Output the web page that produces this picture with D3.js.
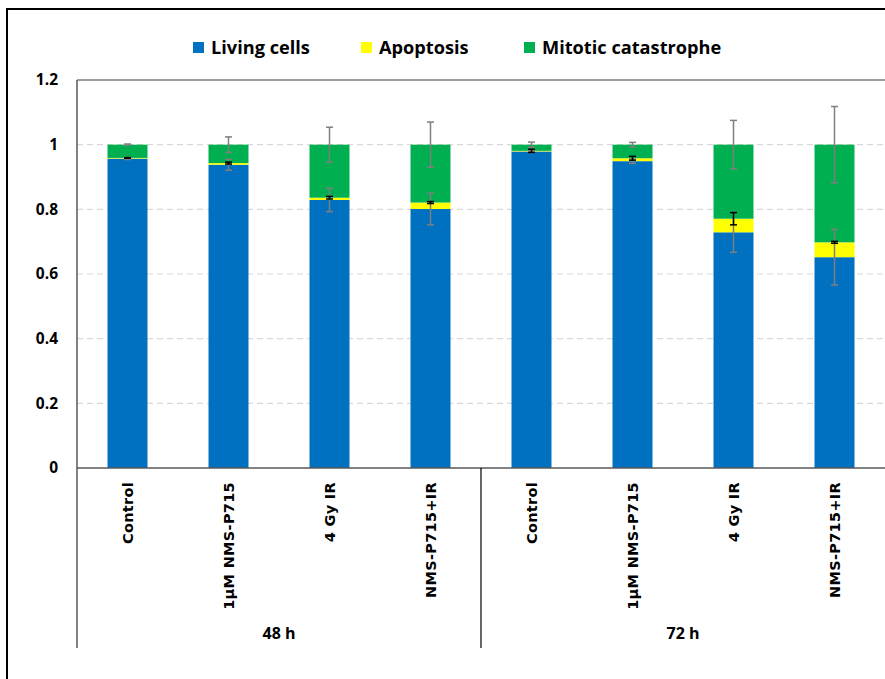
<!DOCTYPE html>
<html>
<head>
<meta charset="utf-8">
<script src="https://cdn.jsdelivr.net/npm/d3@7"></script>
<style>
  html, body { margin: 0; padding: 0; background: #fff; }
  svg { display: block; }
</style>
</head>
<body>
<svg id="chart" width="885" height="679"></svg>
<script>
// Treatments per time point, and the time points they are grouped under
const treatments = ["Control", "1µM NMS-P715", "4 Gy IR", "NMS-P715+IR",
                    "Control", "1µM NMS-P715", "4 Gy IR", "NMS-P715+IR"];
const timeGroups = ["48 h", "72 h"];
const seriesNames = ["Living cells", "Apoptosis", "Mitotic catastrophe"];

// Fractions of cells (each column sums to 1)
const living    = [0.957, 0.938, 0.829, 0.801, 0.979, 0.949, 0.729, 0.652];
const apoptosis = [0.002, 0.005, 0.007, 0.020, 0.002, 0.009, 0.042, 0.046];
const mitotic   = [0.041, 0.057, 0.164, 0.179, 0.019, 0.042, 0.229, 0.302];

// Error bar half-widths
const livingErr    = [0.003, 0.017, 0.036, 0.049, 0.003, 0.007, 0.062, 0.086];
const apoptosisErr = [0.001, 0.003, 0.004, 0.003, 0.005, 0.006, 0.019, 0.003];
const mitoticErr   = [0.002, 0.024, 0.054, 0.070, 0.008, 0.007, 0.075, 0.118];

const yTicks = [0, 0.2, 0.4, 0.6, 0.8, 1, 1.2];

const colors = ["#0070C0", "#FFFF00", "#00B050"];
const errColors = ["#7f7f7f", "#000000", "#7f7f7f"];

const textFont = "'Open Sans', Lato, sans-serif";
const svg = d3.select("#chart");

// outer frame
svg.append("rect")
  .attr("x", 7).attr("y", 9).attr("width", 900).attr("height", 700)
  .attr("fill", "none").attr("stroke", "#000").attr("stroke-width", 2);

const plot = { left: 77, right: 885, top: 80, bottom: 468 };

const x = d3.scaleBand()
  .domain(d3.range(treatments.length))
  .range([plot.left, plot.right])
  .paddingInner(0.604)
  .paddingOuter(0.302);

const y = d3.scaleLinear().domain([0, 1.2]).range([plot.bottom, plot.top]);

// gridlines
svg.append("g").selectAll("line")
  .data(yTicks.filter(t => t > 0 && t < 1.2))
  .join("line")
  .attr("x1", plot.left).attr("x2", plot.right)
  .attr("y1", d => y(d)).attr("y2", d => y(d))
  .attr("stroke", "#d9d9d9").attr("stroke-width", 1.2)
  .attr("stroke-dasharray", "6,4");

// top border of plot area
svg.append("line")
  .attr("x1", plot.left).attr("x2", plot.right)
  .attr("y1", y(1.2)).attr("y2", y(1.2))
  .attr("stroke", "#7f7f7f").attr("stroke-width", 1.5);

// y axis tick labels
const yAxis = d3.axisLeft(y).tickValues(yTicks).tickSize(0).tickPadding(0)
  .tickFormat(d => String(Math.round(d * 10) / 10));
const gy = svg.append("g").attr("transform", `translate(58,0)`).call(yAxis);
gy.select(".domain").remove();
gy.selectAll("text")
  .attr("font-family", textFont)
  .attr("font-weight", "bold").attr("font-size", 15.5).attr("fill", "#000");

// stacked series
const rows = treatments.map((t, i) => ({ i, living: living[i], apoptosis: apoptosis[i], mitotic: mitotic[i] }));
const keys = ["living", "apoptosis", "mitotic"];
const stack = d3.stack().keys(keys)(rows);
const errs = [livingErr, apoptosisErr, mitoticErr];

svg.append("g").selectAll("g")
  .data(stack).join("g")
  .attr("fill", (d, k) => colors[k])
  .selectAll("rect")
  .data(d => d).join("rect")
  .attr("x", d => x(d.data.i))
  .attr("width", x.bandwidth())
  .attr("y", d => y(d[1]))
  .attr("height", d => y(d[0]) - y(d[1]));

// error bars at the top of each series segment
const eg = svg.append("g");
stack.forEach((s, k) => {
  s.forEach(d => {
    const cx = x(d.data.i) + x.bandwidth() / 2;
    const e = errs[k][d.data.i];
    const y1 = y(d[1] + e), y2 = y(d[1] - e);
    const g = eg.append("g").attr("stroke", errColors[k]).attr("stroke-width", 1.5);
    g.append("line").attr("x1", cx).attr("x2", cx).attr("y1", y1).attr("y2", y2);
    g.append("line").attr("x1", cx - 3.5).attr("x2", cx + 3.5).attr("y1", y1).attr("y2", y1);
    g.append("line").attr("x1", cx - 3.5).attr("x2", cx + 3.5).attr("y1", y2).attr("y2", y2);
  });
});

// axis lines
svg.append("line")
  .attr("x1", plot.left).attr("x2", plot.right)
  .attr("y1", plot.bottom).attr("y2", plot.bottom)
  .attr("stroke", "#595959").attr("stroke-width", 1.5);
svg.append("line")
  .attr("x1", plot.left).attr("x2", plot.left)
  .attr("y1", plot.top).attr("y2", 648)
  .attr("stroke", "#595959").attr("stroke-width", 1.5);

// divider between the two time groups
const mid = (x(3) + x.bandwidth() + x(4)) / 2;
svg.append("line")
  .attr("x1", mid).attr("x2", mid)
  .attr("y1", plot.bottom).attr("y2", 648)
  .attr("stroke", "#000").attr("stroke-width", 1.2);

// category labels (rotated)
svg.append("g").selectAll("text")
  .data(treatments).join("text")
  .attr("transform", (d, i) => `translate(${x(i) + x.bandwidth() / 2 + 5},482) rotate(-90)`)
  .attr("text-anchor", "end")
  .attr("font-family", "'DejaVu Sans', Verdana, sans-serif")
  .attr("font-weight", "bold").attr("font-size", 14.5).attr("fill", "#000")
  .attr("letter-spacing", 0.3)
  .text(d => d);

// time group labels
const groupCenters = [(plot.left + mid) / 2, (mid + plot.right) / 2];
svg.append("g").selectAll("text")
  .data(timeGroups).join("text")
  .attr("x", (d, i) => groupCenters[i]).attr("y", 639)
  .attr("text-anchor", "middle")
  .attr("font-family", textFont)
  .attr("font-weight", "bold").attr("font-size", 16).attr("fill", "#000")
  .text(d => d);

// legend
const legendX = [193, 361, 524];
const lg = svg.append("g").selectAll("g")
  .data(seriesNames).join("g")
  .attr("transform", (d, i) => `translate(${legendX[i]},42)`);
lg.append("rect").attr("width", 11).attr("height", 11).attr("fill", (d, i) => colors[i]);
lg.append("text").attr("x", 18).attr("y", 11.5)
  .attr("font-family", textFont)
  .attr("font-weight", "bold").attr("font-size", 18.2).attr("fill", "#000")
  .text(d => d);
</script>
</body>
</html>
